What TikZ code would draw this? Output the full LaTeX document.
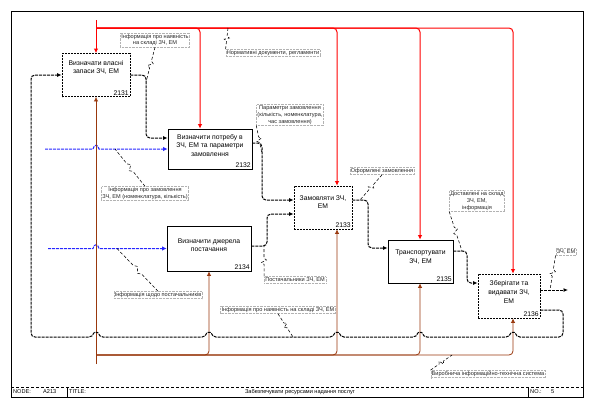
\documentclass[tikz,border=0pt]{standalone}
\usepackage{fontspec}
\setmainfont{Liberation Sans}
\usetikzlibrary{arrows.meta,calc,positioning}
\definecolor{ctrlred}{rgb}{1,0,0}
\definecolor{inblue}{rgb}{0.15,0.15,1}
\definecolor{mechbrown}{rgb}{0.6,0.22,0.05}
\newcommand\boxfont{\fontsize{6.8}{8.6}\selectfont}
\newcommand\lblfont{\fontsize{5.6}{6.8}\selectfont}
% hop over a crossing line, going right / going left
\newcommand\hopr[2]{-- ({#1-3},#2) .. controls ({#1-2},{#2-5}) and ({#1+2},{#2-5}) .. ({#1+3},#2)}
\newcommand\hopl[2]{-- ({#1+3},#2) .. controls ({#1+2},{#2-5}) and ({#1-2},{#2-5}) .. ({#1-3},#2)}
% squiggle from a label to its arrow
\newcommand\squig[2]{\draw[squigline] (#1) -- ($(#1)!0.4!(#2)$) -- ($(#1)!0.46!(#2)!2.5pt!90:(#2)$) -- ($(#1)!0.54!(#2)!2.5pt!-90:(#2)$) -- ($(#1)!0.6!(#2)$) -- (#2);}
\tikzset{
  func/.style={draw, line width=0.8pt, minimum width=#1, inner sep=0pt},
  dfunc/.style={func=#1, dash pattern=on 2pt off 1pt},
  boxtext/.style={font=\boxfont, align=center, inner sep=0pt},
  num/.style={font=\boxfont, anchor=south east, inner sep=1.5pt},
  lbl/.style={font=\lblfont, align=center, inner sep=1pt, draw=black!30, densely dotted, text=black!85},
  tb/.style={font=\lblfont, anchor=west, inner sep=0pt},
  flow/.style={line width=1pt, dash pattern=on 3pt off 1pt, rounded corners=4, -{Latex[length=4.5pt,width=4pt]}},
  ctrl/.style={line width=1pt, ctrlred, rounded corners=4, -{Latex[length=4.5pt,width=4.5pt]}},
  inflow/.style={line width=1pt, inblue, dash pattern=on 3pt off 1pt, -{Latex[length=4.5pt,width=4.5pt]}},
  mech/.style={line width=0.8pt, mechbrown, rounded corners=4, -{Latex[length=4.5pt,width=4.5pt]}},
  squigline/.style={line width=0.55pt, densely dashed},
}
\begin{document}
\begin{tikzpicture}[x=1pt,y=-1pt]
  \useasboundingbox (0,0) rectangle (596,410);
  \fill[white] (0,0) rectangle (596,410);
  %Frame
  \draw[thin] (11,11) rectangle (583,397);
  \draw[thin, densely dashed] (11,387) -- (583,387);
  \draw[thin] (67,387) -- (67,397);
  \draw[thin] (528,387) -- (528,397);
  \node[tb] (nodelbl) at (13,392) {NODE:};
  \node[tb] (nodeval) at (43,392) {A213};
  \node[tb] (titlelbl) at (69,392) {TITLE:};
  \node[font=\lblfont, inner sep=0pt] (titletext) at (300,392) {Забезпечувати ресурсами надання послуг};
  \node[tb] (nolbl) at (530,392) {NO.:};
  \node[tb] (noval) at (551,392) {5};
  %Boxes
  \node[dfunc=68, minimum height=43] (b2131) at (96,75) {};
  \node[func=84, minimum height=40] (b2132) at (210,149) {};
  \node[dfunc=58, minimum height=43] (b2133) at (323,207.5) {};
  \node[func=84, minimum height=45] (b2134) at (209,248.5) {};
  \node[func=65, minimum height=43] (b2135) at (420.5,261.5) {};
  \node[dfunc=62, minimum height=44] (b2136) at (509,296) {};
  \node[boxtext] (t2131) at (96,67.5) {Визначати власні\\запаси ЗЧ, ЕМ};
  \node[boxtext] (t2132) at (210,145.5) {Визначити потребу в\\ЗЧ, ЕМ та параметри\\замовлення};
  \node[boxtext] (t2133) at (323,202) {Замовляти ЗЧ,\\ЕМ};
  \node[boxtext] (t2134) at (209,245) {Визначити джерела\\постачання};
  \node[boxtext] (t2135) at (420.5,257) {Транспортувати\\ЗЧ, ЕМ};
  \node[boxtext] (t2136) at (509,292) {Зберігати та\\видавати ЗЧ,\\ЕМ};
  \foreach \n in {2131,2132,2133,2134,2135,2136}
    \node[num] (n\n) at (b\n.south east) {\n};
  %Controls
  \coordinate (ctop) at (96,20);
  \draw[ctrl] (ctop) -- (b2131.north);
  \draw[ctrl] (96,28) -| (b2132.north -| 200,0);
  \draw[ctrl] (96,28) -| (b2133.north -| 337,0);
  \draw[ctrl] (96,28) -| (b2135.north -| 420,0);
  \draw[ctrl] (96,28) -| (b2136.north -| 513,0);
  %Inputs
  \coordinate (in1) at (45,149);
  \coordinate (in2) at (48,248.5);
  \draw[inflow] (in1) \hopr{96}{149} -- (b2132.west);
  \draw[inflow] (in2) \hopr{96}{248.5} -- (b2134.west);
  %Mechanisms
  \coordinate (mbot) at (96,364);
  \draw[mech] (mbot) -- (b2131.south);
  \draw[mech] (96,355) -| (b2134.south);
  \draw[mech] (96,355) -| (b2133.south -| 337,0);
  \draw[mech] (96,355) -| (b2135.south -| 420,0);
  \draw[mech] (96,355) -| (b2136.south -| 513,0);
  %Outputs
  \coordinate (out1) at (568,290);
  \draw[flow] (b2131.east) -- (146,75) -- (146,138) -- (b2132.west |- 0,138);
  \draw[flow] (b2132.east |- 0,143) -- (262,143) -- (262,200) -- (b2133.west |- 0,200);
  \draw[flow] (b2134.east |- 0,246) -- (267,246) -- (267,214) -- (b2133.west |- 0,214);
  \draw[flow] (b2133.east |- 0,200) -- (368,200) -- (368,248) -- (b2135.west |- 0,248);
  \draw[flow] (b2135.east |- 0,251) -- (467,251) -- (467,283) -- (b2136.west |- 0,283);
  \draw[flow] (b2136.east |- 0,290) -- (out1);
  \draw[flow] (b2136.east |- 0,310) -- (563,310) -- (563,337) \hopl{513}{337} \hopl{420}{337} \hopl{337}{337} \hopl{209}{337} \hopl{96}{337} -- (31,337) -- (31,75) -- (b2131.west);
  %Labels
  \node[lbl] (l1) at (155,40) {Інформація про наявність\\на складі ЗЧ, ЕМ};
  \node[lbl] (l2) at (273,53) {Нормативні документи, регламенти};
  \node[lbl] (l3) at (290,115) {Параметри замовлення\\(кількість, номенклатура,\\час замовлення)};
  \node[lbl] (l4) at (145,193.5) {Інформація про замовлення\\ЗЧ, ЕМ (номенклатура, кількість)};
  \node[lbl] (l5) at (158,295) {Інформація щодо постачальників};
  \node[lbl] (l6) at (295,280) {Постачальники ЗЧ, ЕМ};
  \node[lbl] (l7) at (278,310) {Інформація про наявність на складі ЗЧ, ЕМ};
  \node[lbl] (l8) at (382,171) {Оформлені замовлення};
  \node[lbl] (l9) at (477,201) {Доставлені на склад\\ЗЧ, ЕМ,\\інформація};
  \node[lbl] (l10) at (566,252) {ЗЧ, ЕМ};
  \node[lbl] (l11) at (488,374) {Виробнича інформаційно-технічна система};
  %Squiggles
  \coordinate (q1) at (146,82);
  \coordinate (q2) at (228,28);
  \coordinate (q3) at (262,154);
  \coordinate (q4) at (115,149);
  \coordinate (q5) at (117,248.5);
  \coordinate (q6) at (264,246);
  \coordinate (q7) at (293,337);
  \coordinate (q8) at (360,200);
  \coordinate (q9) at (462,251);
  \coordinate (q10) at (550,290);
  \coordinate (q11) at (452,355);
  \squig{l1.south}{q1}
  \squig{l2.north west}{q2}
  \squig{l3.south west}{q3}
  \squig{l4.north}{q4}
  \squig{l5.north}{q5}
  \squig{l6.north west}{q6}
  \squig{l7.south}{q7}
  \squig{l8.south}{q8}
  \squig{l9.south west}{q9}
  \squig{l10.south west}{q10}
  \squig{l11.north west}{q11}
\end{tikzpicture}
\end{document}
